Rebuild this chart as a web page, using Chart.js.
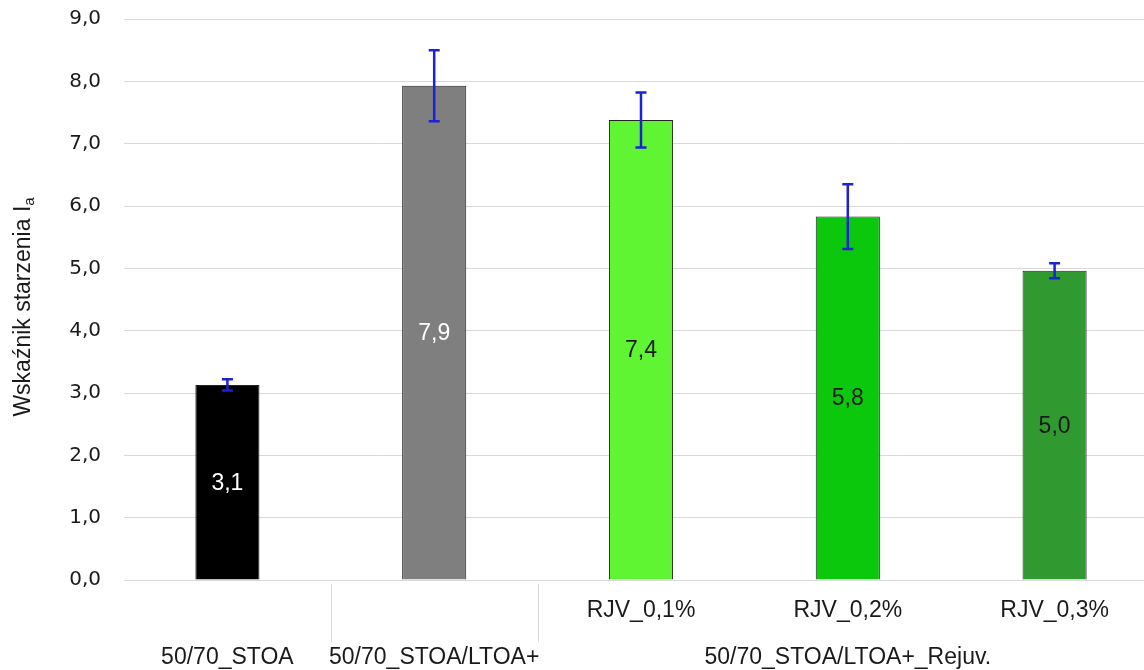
<!DOCTYPE html>
<html><head><meta charset="utf-8">
<script src="https://cdn.jsdelivr.net/npm/chart.js@4.4.1/dist/chart.umd.min.js"></script>
<style>
html,body{margin:0;padding:0;background:#fff;overflow:hidden;width:1144px;height:670px;}
#wrap{position:absolute;left:0;top:0;width:1158px;height:670px;}
</style></head>
<body>
<div id="wrap"><canvas id="c" width="1158" height="670"></canvas></div>
<script>
const categories = ['', '', 'RJV_0,1%', 'RJV_0,2%', 'RJV_0,3%'];
const values = [3.13, 7.93, 7.38, 5.83, 4.96];
const errors = [0.09, 0.57, 0.44, 0.52, 0.12];
const barColors = ['#000000', '#7f7f7f', '#5ff533', '#0cc80c', '#309a30'];
const labelColors = ['#ffffff', '#ffffff', '#1a1a1a', '#1a1a1a', '#1a1a1a'];
const groupLabels = ['50/70_STOA', '50/70_STOA/LTOA+', '50/70_STOA/LTOA+_Rejuv.'];
const groupStart = [0, 1, 2];
const groupEnd = [0, 1, 4];
const yTicks = [0,1,2,3,4,5,6,7,8,9];
const yTitle = 'Wskaźnik starzenia I';
const yTitleSub = 'a';

const fmt = v => v.toFixed(1).replace('.', ',');
const FONT = '"Liberation Sans", Arial, sans-serif';

const extras = {
  id: 'extras',
  afterDatasetsDraw(chart) {
    const ctx = chart.ctx;
    const x = chart.scales.x, y = chart.scales.y;
    const meta = chart.getDatasetMeta(0);
    ctx.save();
    ctx.font = '23px ' + FONT;
    ctx.textAlign = 'center';
    ctx.textBaseline = 'middle';
    values.forEach((v, i) => {
      const el = meta.data[i];
      ctx.fillStyle = labelColors[i];
      ctx.fillText(fmt(v), el.x, (el.y + el.base) / 2 + 1);
    });
    ctx.strokeStyle = '#1c22d6';
    ctx.lineWidth = 2.5;
    values.forEach((v, i) => {
      const cx = x.getPixelForValue(i);
      const t = y.getPixelForValue(v + errors[i]);
      const b = y.getPixelForValue(v - errors[i]);
      ctx.beginPath();
      ctx.moveTo(cx, t); ctx.lineTo(cx, b);
      ctx.moveTo(cx - 5.5, t); ctx.lineTo(cx + 5.5, t);
      ctx.moveTo(cx - 5.5, b); ctx.lineTo(cx + 5.5, b);
      ctx.stroke();
    });
    ctx.restore();
  },
  afterDraw(chart) {
    const ctx = chart.ctx;
    const x = chart.scales.x;
    const area = chart.chartArea;
    ctx.save();
    ctx.strokeStyle = '#d9d9d9';
    ctx.lineWidth = 1;
    for (let g = 0; g < groupLabels.length - 1; g++) {
      const sx = Math.round((x.getPixelForValue(groupEnd[g]) + x.getPixelForValue(groupStart[g + 1])) / 2) + 0.5;
      ctx.beginPath();
      ctx.moveTo(sx, area.bottom + 4);
      ctx.lineTo(sx, area.bottom + 62);
      ctx.stroke();
    }
    ctx.fillStyle = '#1a1a1a';
    ctx.font = '23px ' + FONT;
    ctx.textAlign = 'center';
    ctx.textBaseline = 'middle';
    groupLabels.forEach((lab, g) => {
      const cx = (x.getPixelForValue(groupStart[g]) + x.getPixelForValue(groupEnd[g])) / 2;
      ctx.fillText(lab, cx, area.bottom + 78);
    });
    ctx.translate(30, 307);
    ctx.rotate(-Math.PI / 2);
    ctx.textBaseline = 'alphabetic';
    ctx.font = '23px ' + FONT;
    const w1 = ctx.measureText(yTitle).width;
    ctx.font = '15px ' + FONT;
    const w2 = ctx.measureText(yTitleSub).width;
    const start = -(w1 + w2) / 2;
    ctx.textAlign = 'left';
    ctx.font = '23px ' + FONT;
    ctx.fillText(yTitle, start, 0);
    ctx.font = '15px ' + FONT;
    ctx.fillText(yTitleSub, start + w1, 4);
    ctx.restore();
  }
};

new Chart(document.getElementById('c'), {
  type: 'bar',
  data: {
    labels: categories,
    datasets: [{
      data: values,
      backgroundColor: barColors,
      borderColor: '#222222',
      borderWidth: 1,
      barPercentage: 0.31,
      categoryPercentage: 1.0
    }]
  },
  options: {
    responsive: false,
    animation: false,
    devicePixelRatio: 1,
    layout: { padding: { top: 19, left: 0, right: 0, bottom: 0 } },
    plugins: { legend: { display: false }, tooltip: { enabled: false } },
    scales: {
      x: {
        grid: { display: false, drawTicks: false },
        border: { display: false },
        ticks: {
          color: '#1a1a1a',
          font: { size: 23, family: FONT },
          padding: 17,
          maxRotation: 0,
          autoSkip: false
        },
        afterFit: s => { s.height = 90; s.paddingLeft = 0; s.paddingRight = 0; }
      },
      y: {
        min: 0, max: 9,
        afterBuildTicks: s => { s.ticks = yTicks.map(v => ({ value: v })); },
        grid: { color: '#d9d9d9', lineWidth: 1, drawTicks: false },
        border: { display: false },
        ticks: {
          color: '#1a1a1a',
          font: { size: 20, family: '"DejaVu Sans", sans-serif' },
          padding: 23,
          callback: v => fmt(v)
        },
        afterFit: s => { s.width = 124; s.paddingTop = 0; s.paddingBottom = 0; }
      }
    }
  },
  plugins: [extras]
});
</script>
</body></html>
